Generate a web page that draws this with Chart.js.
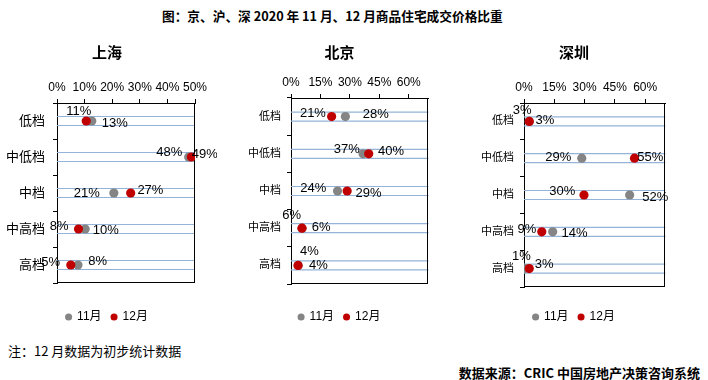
<!DOCTYPE html>
<html>
<head>
<meta charset="utf-8">
<script src="https://cdn.jsdelivr.net/npm/chart.js@4.4.1/dist/chart.umd.min.js"></script>
<style>
  html, body { margin: 0; padding: 0; background: #fff; }
  body { width: 708px; height: 380px; position: relative; overflow: hidden;
         font-family: "Noto Sans CJK SC", "Liberation Sans", sans-serif; color: #000; }
  canvas { position: absolute; }
  #mainTitle { position: absolute; left: 162px; top: 7px; line-height: 18px; font-size: 12.7px;
               font-weight: bold; white-space: nowrap; }
  #note { position: absolute; left: 8px; top: 343px; line-height: 16px; font-size: 13px; white-space: nowrap; }
  #source { position: absolute; right: 8px; top: 365px; line-height: 16px; font-size: 13px;
            font-weight: bold; white-space: nowrap; }
</style>
</head>
<body>
<div id="mainTitle">图：京、沪、深 2020 年 11 月、12 月商品住宅成交价格比重</div>
<canvas id="sh" width="220" height="298" style="left:-3px;top:35px;"></canvas>
<canvas id="bj" width="187" height="298" style="left:246px;top:35px;"></canvas>
<canvas id="sz" width="192" height="298" style="left:478px;top:35px;"></canvas>
<div id="note">注：12 月数据为初步统计数据</div>
<div id="source">数据来源：CRIC 中国房地产决策咨询系统</div>
<script>
// ---------- data ----------
const categories = ['低档', '中低档', '中档', '中高档', '高档'];
const seriesNames = ['11月', '12月'];
const cityNames = ['上海', '北京', '深圳'];

const shanghaiNov = [0.126, 0.477, 0.206, 0.102, 0.076];
const shanghaiDec = [0.106, 0.487, 0.267, 0.078, 0.050];
const beijingNov  = [0.277, 0.367, 0.237, 0.056, 0.036];
const beijingDec  = [0.207, 0.396, 0.286, 0.056, 0.036];
const shenzhenNov = [0.026, 0.286, 0.523, 0.142, 0.006];
const shenzhenDec = [0.026, 0.547, 0.297, 0.088, 0.026];

const shanghaiTicks = [0, 0.1, 0.2, 0.3, 0.4, 0.5];
const beijingTicks  = [0, 0.15, 0.3, 0.45, 0.6];
const shenzhenTicks = [0, 0.15, 0.3, 0.45, 0.6];
const shanghaiMax = 0.5;
const beijingMax = 0.7;
const shenzhenMax = 0.7;

// ---------- styling / layout ----------
const GRAY = '#858585';
const RED = '#C00000';
const BAND = '#95B3D7';
const FONT = 'Arial, "Liberation Sans", "Noto Sans CJK SC", sans-serif';
Chart.defaults.font.family = FONT;
Chart.defaults.color = '#000';

// data-label placement: [side, dx, dy]; 'L' = text ends at point+dx, 'R' = text starts at point+dx
const shanghaiLabelPos = [
  [['R', 10, 2.3], ['L', -6.4, -5], ['L', -14, 0], ['R', 7.7, 1], ['R', 10.3, -3.7]],
  [['L', 5, -9.5], ['R', 0.3, -3], ['R', 6.7, -3], ['L', -10, -2.6], ['L', -10.7, -3]]
];
const beijingLabelPos = [
  [['R', 17.4, -1.7], ['L', -3.3, -4], ['L', -11.3, -2.3], ['L', -1, -13], ['R', 1.9, -14.3]],
  [['L', -5.7, -3.4], ['R', 9.2, -2.3], ['R', 8.3, 2.3], ['R', 9.7, -0.6], ['R', 10.9, 0]]
];
const shenzhenLabelPos = [
  [['L', 2.3, -11], ['L', -10.5, -1], ['R', 12.7, 2], ['R', 8.9, 1.4], ['L', 5.5, -12.3]],
  [['R', 6.3, -1], ['R', 2.7, -0.6], ['L', -8.8, -3.3], ['L', -5.5, -2], ['R', 5.6, -4]]
];

const pct = v => Math.round(v * 100) + '%';

const bandPlugin = {
  id: 'bands',
  beforeDatasetsDraw(chart) {
    const {ctx, chartArea: a, scales: {y}} = chart;
    ctx.save();
    ctx.strokeStyle = BAND;
    ctx.lineWidth = 1.2;
    categories.forEach((c, i) => {
      const yc = y.getPixelForValue(i);
      [-4.5, 4.5].forEach(d => {
        ctx.beginPath();
        ctx.moveTo(a.left, yc + d);
        ctx.lineTo(a.right, yc + d);
        ctx.stroke();
      });
    });
    ctx.strokeStyle = '#000';
    ctx.lineWidth = 1;
    const r = Math.round(a.right) - 0.5, b = Math.round(a.bottom) - 0.5;
    ctx.beginPath();
    ctx.moveTo(r, a.top);
    ctx.lineTo(r, b + 0.5);
    ctx.moveTo(a.left, b);
    ctx.lineTo(r + 0.5, b);
    ctx.stroke();
    ctx.restore();
  }
};

const labelPlugin = {
  id: 'pointLabels',
  afterDatasetsDraw(chart, args, opts) {
    const {ctx} = chart;
    ctx.save();
    ctx.font = '13px ' + FONT;
    ctx.fillStyle = '#000';
    ctx.textBaseline = 'middle';
    chart.data.datasets.forEach((ds, d) => {
      const meta = chart.getDatasetMeta(d);
      meta.data.forEach((el, i) => {
        const p = opts.pos[d][i];
        ctx.textAlign = p[0] === 'L' ? 'right' : 'left';
        ctx.fillText(pct(ds.data[i]), el.x + p[1], el.y + p[2]);
      });
    });
    ctx.restore();
  }
};

function makeChart(id, o) {
  const mk = (name, data, color, order) => ({
    label: name, data, order, xAxisID: 'x', yAxisID: 'y',
    showLine: false,
    backgroundColor: color, borderColor: color,
    pointBackgroundColor: color, pointBorderColor: color,
    pointRadius: 4.6, pointHoverRadius: 4.6, pointBorderWidth: 0, borderWidth: 0
  });
  return new Chart(document.getElementById(id), {
    type: 'line',
    data: {
      labels: categories,
      datasets: [mk(seriesNames[0], o.nov, GRAY, 1), mk(seriesNames[1], o.dec, RED, 0)]
    },
    options: {
      indexAxis: 'y',
      responsive: false,
      animation: false,
      devicePixelRatio: 1,
      events: [],
      layout: {padding: 0},
      scales: {
        x: {
          type: 'linear', position: 'top', min: 0, max: o.max,
          afterBuildTicks: ax => { ax.ticks = o.ticks.map(v => ({value: v})); },
          afterFit: ax => { ax.height = o.xh; },
          grid: {drawOnChartArea: false, drawTicks: true, tickLength: 4, color: '#000'},
          border: {display: true, color: '#000', width: 1},
          ticks: {padding: 4, font: {size: 12}, color: '#000', maxRotation: 0, autoSkip: false,
                  callback: v => pct(v)}
        },
        y: {
          type: 'category', position: 'left', offset: true,
          afterFit: ax => { ax.width = o.yw; },
          grid: {offset: true, drawOnChartArea: false, drawTicks: true, tickLength: 4, color: '#000'},
          border: {display: true, color: '#000', width: 1},
          ticks: {padding: o.yp, font: {size: o.yfs}, color: '#000', autoSkip: false}
        },
        yr: {
          type: 'linear', axis: 'y', position: 'right', display: true,
          grid: {display: false}, ticks: {display: false}, border: {display: false},
          afterFit: ax => { ax.width = o.rw; }
        },
        xb: {
          type: 'linear', axis: 'x', position: 'bottom', display: true,
          grid: {display: false}, ticks: {display: false}, border: {display: false},
          afterFit: ax => { ax.height = o.bh; }
        }
      },
      plugins: {
        title: {display: true, text: o.title, color: '#000',
                font: {size: 15, weight: 'bold', family: '"Noto Sans CJK SC", sans-serif'},
                padding: {top: 8, bottom: 8}},
        legend: {position: 'bottom',
                 labels: {usePointStyle: true, pointStyle: 'circle', boxWidth: 5, boxHeight: 5,
                          padding: 10, font: {size: 12}, color: '#000',
                          sort: (a, b) => a.datasetIndex - b.datasetIndex}},
        tooltip: {enabled: false},
        pointLabels: {pos: o.pos}
      }
    },
    plugins: [bandPlugin, labelPlugin]
  });
}

makeChart('sh', {title: cityNames[0], nov: shanghaiNov, dec: shanghaiDec, ticks: shanghaiTicks,
  max: shanghaiMax, xh: 34, yw: 60, yp: 8, yfs: 13, rw: 22, bh: 18, pos: shanghaiLabelPos});
makeChart('bj', {title: cityNames[1], nov: beijingNov, dec: beijingDec, ticks: beijingTicks,
  max: beijingMax, xh: 29, yw: 45, yp: 6, yfs: 11, rw: 4, bh: 17, pos: beijingLabelPos});
makeChart('sz', {title: cityNames[2], nov: shenzhenNov, dec: shenzhenDec, ticks: shenzhenTicks,
  max: shenzhenMax, xh: 34, yw: 46, yp: 6, yfs: 11, rw: 1, bh: 14, pos: shenzhenLabelPos});
</script>
</body>
</html>
